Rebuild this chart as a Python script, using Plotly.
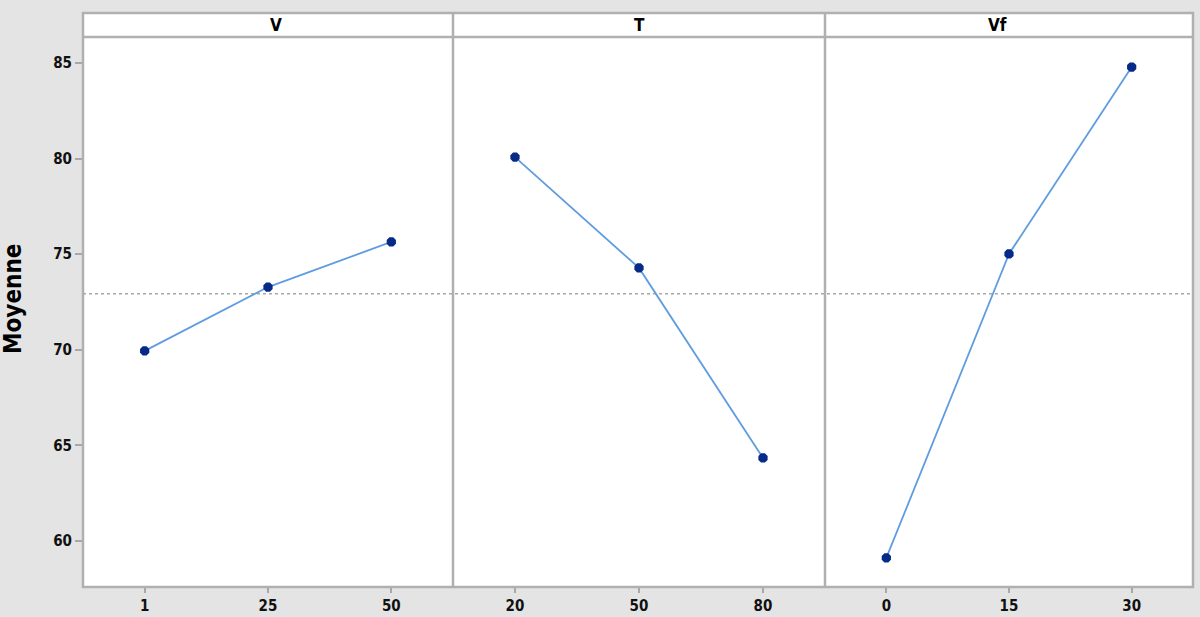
import plotly.graph_objects as go

# Data
factors = ["V", "T", "Vf"]
levels_V = ["1", "25", "50"]
means_V = [69.94, 73.28, 75.64]
levels_T = ["20", "50", "80"]
means_T = [80.08, 74.28, 64.34]
levels_Vf = ["0", "15", "30"]
means_Vf = [59.11, 75.01, 84.79]
grand_mean = 72.93
y_ticks = [60, 65, 70, 75, 80, 85]

W, H = 1200, 617
ml, mr, mt, mb = 83, 7, 13, 30
pw = W - ml - mr
ph = H - mt - mb
strip_h = 24
ytop = 1 - strip_h / ph
div1 = (453 - ml) / pw
div2 = (825 - ml) / pw

line_col = "#5f9de0"
mark_col = "#062a88"
border_col = "#b0b0b0"
font_fam = "DejaVu Sans Condensed, DejaVu Sans, Arial"

fig = go.Figure()
xs = ["x", "x2", "x3"]

# white background for plot areas and strip
fig.add_shape(type="rect", xref="paper", yref="paper", x0=0, x1=1, y0=0, y1=1,
              fillcolor="white", line=dict(color=border_col, width=2.5), layer="below")
# grand mean dotted line
fig.add_shape(type="line", xref="paper", yref="y", x0=0, x1=1, y0=grand_mean, y1=grand_mean,
              line=dict(color="#a8a8a8", width=1.3, dash="dot"), layer="below")

for ax, lv, mv in zip(xs, [levels_V, levels_T, levels_Vf], [means_V, means_T, means_Vf]):
    fig.add_trace(go.Scatter(
        x=lv, y=mv, xaxis=ax, yaxis="y", mode="lines+markers",
        line=dict(color=line_col, width=1.8),
        marker=dict(color=mark_col, size=10, symbol="octagon"),
        showlegend=False, hoverinfo="x+y"))

xaxis_common = dict(type="category", range=[-0.5, 2.5], showgrid=False, zeroline=False,
                    ticks="outside", ticklen=5, tickcolor="#a8a8a8", tickwidth=1.5,
                    tickfont=dict(family=font_fam, size=15, color="#111111", weight="bold"),
                    anchor="y", showline=False, fixedrange=True, automargin=False)
fig.update_layout(
    width=W, height=H,
    margin=dict(l=ml, r=mr, t=mt, b=mb),
    paper_bgcolor="#e4e4e4",
    plot_bgcolor="rgba(0,0,0,0)",
    xaxis=dict(domain=[0, div1], **xaxis_common),
    xaxis2=dict(domain=[div1, div2], **xaxis_common),
    xaxis3=dict(domain=[div2, 1], **xaxis_common),
    yaxis=dict(domain=[0, ytop], range=[57.59, 86.36], tickvals=y_ticks,
               showgrid=False, zeroline=False, ticks="outside", ticklen=7,
               tickcolor="#a8a8a8", tickwidth=1.5, showline=False, automargin=False,
               tickfont=dict(family=font_fam, size=15, color="#111111", weight="bold"),
               fixedrange=True),
)

# y-axis title
fig.add_annotation(text="Moyenne", xref="paper", yref="paper",
                   x=(13 - ml) / pw, y=(H - mb - 299) / ph, textangle=-90,
                   showarrow=False, xanchor="center", yanchor="middle",
                   font=dict(family=font_fam, size=24, color="#000000", weight="bold"))

# strip bottom line
fig.add_shape(type="line", xref="paper", yref="paper", x0=0, x1=1, y0=ytop, y1=ytop,
              line=dict(color=border_col, width=2.5))
# panel dividers
for d in [div1, div2]:
    fig.add_shape(type="line", xref="paper", yref="paper", x0=d, x1=d, y0=0, y1=1,
                  line=dict(color=border_col, width=2.5))

# strip labels
centers = [div1 / 2, (div1 + div2) / 2, (div2 + 1) / 2]
for f, c in zip(factors, centers):
    fig.add_annotation(text=f, xref="paper", yref="paper", x=c, y=(1 + ytop) / 2,
                       showarrow=False, yanchor="middle",
                       font=dict(family=font_fam, size=17, color="#000000", weight="bold"))

fig.write_html("out.html", config={"displayModeBar": False},
               post_script="document.body.style.margin='0';document.body.style.overflow='hidden';")
